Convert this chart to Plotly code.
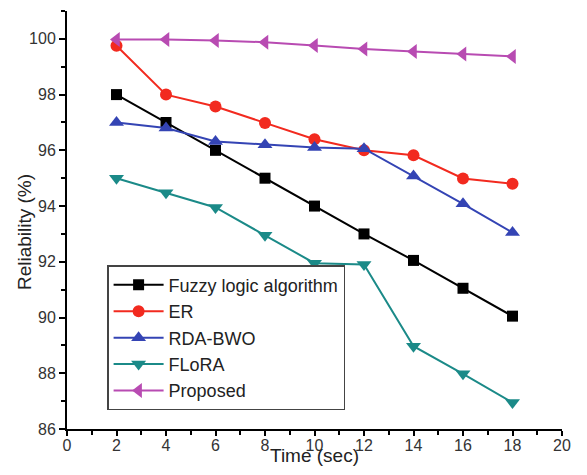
import plotly.graph_objects as go

time_sec = [2, 4, 6, 8, 10, 12, 14, 16, 18]
fuzzy = [98.0, 97.0, 96.0, 95.0, 94.0, 93.0, 92.05, 91.05, 90.05]
er = [99.75, 98.0, 97.57, 96.98, 96.4, 96.0, 95.82, 94.99, 94.8]
rda_bwo = [97.0, 96.8, 96.32, 96.2, 96.1, 96.06, 95.08, 94.08, 93.05]
flora = [95.0, 94.48, 93.95, 92.95, 91.95, 91.9, 88.97, 87.98, 86.95]
proposed = [99.98, 99.98, 99.94, 99.88, 99.76, 99.64, 99.55, 99.46, 99.37]

series = [
    ("Fuzzy logic algorithm", fuzzy, "#000000", "square", 11),
    ("ER", er, "#f22a1f", "circle", 12),
    ("RDA-BWO", rda_bwo, "#3444b4", "triangle-up", 13),
    ("FLoRA", flora, "#1b8a88", "triangle-down", 13),
    ("Proposed", proposed, "#b84bb2", "triangle-left", 13),
]

FONT = "Arial, Liberation Sans, sans-serif"

fig = go.Figure()
for name, vals, col, sym, sz in series:
    fig.add_trace(go.Scatter(
        x=time_sec, y=vals, name=name, mode="lines+markers",
        line=dict(color=col, width=2),
        marker=dict(symbol=sym, size=sz, color=col, line=dict(width=0)),
    ))

# page body has an 8px margin, so the figure is sized to fit the 587x475 window
fig.update_layout(
    width=571, height=459,
    margin=dict(l=59, r=17, t=3, b=38),
    paper_bgcolor="white", plot_bgcolor="white",
    font=dict(family=FONT, color="#222222"),
    showlegend=True,
    legend=dict(
        x=0.081, y=0.392, xanchor="left", yanchor="top",
        bgcolor="white", bordercolor="#444444", borderwidth=1.5,
        font=dict(size=18, family=FONT, color="#222222"),
        tracegroupgap=0, itemwidth=50,
    ),
)

fig.update_xaxes(
    range=[0, 20], dtick=2, tick0=0,
    showgrid=False, zeroline=False,
    showline=True, linecolor="black", linewidth=2,
    ticks="outside", ticklen=5, tickwidth=2, tickcolor="black",
    tickfont=dict(size=16, family=FONT, color="#333333"),
    ticklabelstandoff=-4,
    minor=dict(dtick=1, tick0=0, ticks="outside", ticklen=4, tickwidth=2, tickcolor="black"),
)
fig.update_yaxes(
    range=[86, 101], dtick=2, tick0=86,
    showgrid=False, zeroline=False,
    showline=True, linecolor="black", linewidth=2,
    ticks="outside", ticklen=6, tickwidth=2, tickcolor="black",
    tickfont=dict(size=16, family=FONT, color="#333333"),
    minor=dict(dtick=1, tick0=86, ticks="outside", ticklen=4, tickwidth=2, tickcolor="black"),
)

fig.add_annotation(
    text="Time (sec)", xref="paper", yref="paper",
    x=0.5, y=-0.063, xanchor="center", yanchor="middle",
    showarrow=False, font=dict(size=19, family=FONT, color="#222222"),
)
fig.add_annotation(
    text="Reliability (%)", xref="paper", yref="paper",
    x=-0.087, y=0.471, xanchor="center", yanchor="middle", textangle=-90,
    showarrow=False, font=dict(size=19, family=FONT, color="#222222"),
)

fig.write_html("out.html")
